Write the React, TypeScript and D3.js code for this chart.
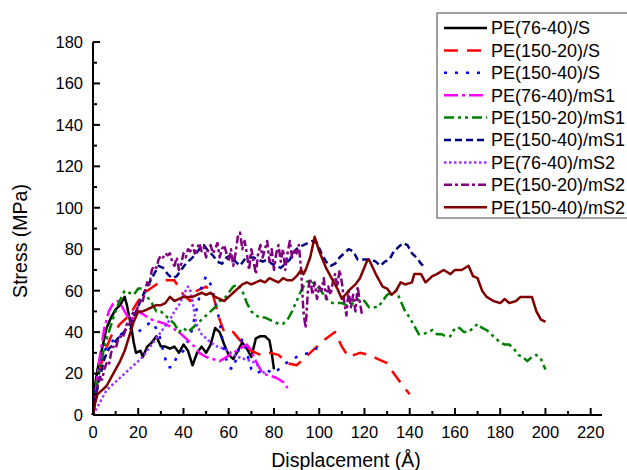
import React from "react";
import * as d3 from "d3";

type P = [number, number];

const seriesNames = [
  "PE(76-40)/S",
  "PE(150-20)/S",
  "PE(150-40)/S",
  "PE(76-40)/mS1",
  "PE(150-20)/mS1",
  "PE(150-40)/mS1",
  "PE(76-40)/mS2",
  "PE(150-20)/mS2",
  "PE(150-40)/mS2",
];

const xTicks = [0, 20, 40, 60, 80, 100, 120, 140, 160, 180, 200, 220];
const yTicks = [0, 20, 40, 60, 80, 100, 120, 140, 160, 180];

const pe7640S: P[] = [[0,0],[1,15],[2,22],[4,32],[6,42],[8,47],[10,51],[12,53],[14,57],[15,53],[17,42],[18,35],[19,30],[21,31],[22,28],[24,33],[26,35],[28,38],[30,33],[32,33],[34,32],[36,33],[38,30],[40,34],[42,31],[44,24],[46,30],[48,33],[50,30],[52,34],[54,42],[56,40],[58,34],[60,29],[62,27],[64,31],[66,35],[68,32],[70,28],[72,37],[74,38],[76,38],[78,36],[79,30],[80,22]];

const pe15020S: P[] = [[0,0],[2,18],[5,30],[8,38],[12,44],[16,48],[20,55],[24,60],[28,63],[32,65],[36,65],[40,58],[43,55],[46,60],[50,62],[53,58],[56,46],[58,40],[62,40],[65,36],[68,33],[70,31],[74,29],[78,30],[82,29],[86,25],[90,24],[94,28],[98,32],[102,36],[107,40],[110,33],[113,28],[118,30],[122,29],[126,27],[130,25],[133,20],[137,14],[140,10]];

const pe15040S: P[] = [[0,0],[1,12],[3,25],[5,31],[8,35],[11,38],[14,40],[17,42],[20,40],[23,43],[26,45],[29,40],[31,31],[33,23],[35,23],[37,28],[40,31],[43,38],[46,52],[48,62],[50,67],[52,63],[54,55],[56,45],[58,30],[60,23],[62,22],[64,30],[66,37],[68,30],[70,22],[72,20],[76,22],[80,20],[84,24],[88,27],[92,29],[96,30],[100,33]];

const pe7640mS1: P[] = [[0,0],[1,10],[3,28],[5,42],[7,50],[9,54],[11,55],[13,52],[15,48],[17,46],[20,50],[23,48],[26,46],[29,45],[32,44],[35,42],[38,40],[41,37],[44,34],[47,30],[50,28],[53,27],[56,26],[59,28],[62,30],[65,32],[68,34],[70,31],[72,26],[75,20],[78,19],[81,18],[84,16],[86,13]];

const pe15020mS1: P[] = [[0,0],[1,10],[3,22],[5,33],[7,40],[9,47],[11,53],[13,58],[14,60],[16,59],[18,58],[20,61],[22,61],[24,57],[26,54],[28,50],[30,50],[32,48],[34,46],[36,44],[38,40],[40,42],[42,40],[44,42],[46,44],[48,46],[50,48],[52,50],[54,52],[56,55],[58,56],[60,59],[62,62],[64,63],[66,60],[68,54],[70,50],[72,48],[74,47],[76,47],[78,46],[80,45],[82,44],[84,44],[86,46],[88,50],[90,55],[92,60],[94,64],[96,65],[98,63],[100,61],[102,58],[104,55],[106,54],[108,54],[110,54],[112,53],[114,53],[116,55],[118,56],[120,55],[122,52],[124,52],[126,52],[128,55],[130,58],[132,59],[134,60],[136,55],[138,50],[140,47],[142,43],[144,39],[146,39],[148,40],[150,41],[152,39],[154,39],[156,38],[158,38],[160,42],[162,42],[164,40],[166,40],[168,42],[170,44],[172,42],[174,41],[176,39],[178,37],[180,35],[182,34],[184,34],[186,32],[188,29],[190,28],[192,26],[194,28],[196,29],[198,27],[200,22]];

const pe15040mS1: P[] = [[0,0],[1,8],[3,18],[5,27],[7,32],[9,34],[11,37],[13,39],[15,42],[17,45],[19,50],[21,55],[23,60],[25,64],[27,68],[29,72],[31,71],[33,68],[35,66],[37,67],[39,70],[41,73],[43,75],[45,77],[47,80],[49,82],[51,79],[53,77],[55,74],[57,73],[59,76],[61,77],[63,74],[65,72],[67,75],[69,76],[71,76],[73,75],[75,74],[77,75],[79,73],[81,72],[83,71],[85,73],[87,75],[89,79],[91,81],[93,82],[95,83],[97,84],[99,83],[101,78],[103,74],[105,72],[107,73],[109,76],[111,78],[113,80],[115,79],[117,75],[119,75],[121,75],[123,75],[125,74],[127,72],[129,74],[131,75],[133,79],[135,81],[137,83],[139,82],[141,78],[143,76],[145,73],[147,71]];

const pe7640mS2: P[] = [[0,0],[2,4],[4,8],[6,12],[8,14],[10,16],[12,18],[14,20],[16,22],[18,24],[20,26],[22,28],[24,31],[26,34],[28,37],[30,40],[32,43],[34,46],[36,50],[38,53],[40,58],[42,62],[43,60],[44,55],[45,48],[46,43],[48,39],[50,37],[52,35],[55,33],[58,32],[61,30],[64,28],[67,27],[70,26],[72,25],[74,22],[76,20]];

const pe15020mS2: P[] = [[0,0],[1,8],[2,14],[3,18],[4,17],[5,22],[6,25],[7,24],[8,30],[9,33],[10,32],[11,36],[12,38],[13,37],[14,40],[15,44],[16,43],[17,48],[18,50],[19,49],[20,53],[21,56],[22,55],[23,60],[24,64],[25,63],[26,70],[27,72],[28,71],[29,75],[30,77],[31,76],[32,78],[33,77],[34,78],[35,74],[36,72],[37,76],[38,70],[39,73],[40,78],[41,76],[42,80],[43,79],[44,82],[45,78],[46,80],[47,83],[48,79],[49,81],[50,76],[51,80],[52,82],[53,78],[54,80],[55,83],[56,76],[57,80],[58,82],[59,78],[60,74],[61,80],[62,72],[63,78],[64,86],[65,88],[66,80],[67,84],[68,78],[69,70],[70,80],[71,74],[72,68],[73,78],[74,82],[75,76],[76,80],[77,84],[78,74],[79,80],[80,70],[81,78],[82,82],[83,74],[84,80],[85,70],[86,78],[87,84],[88,76],[89,80],[90,78],[91,82],[92,70],[93,50],[94,42],[95,60],[96,66],[97,58],[98,64],[99,56],[100,62],[101,60],[102,66],[103,56],[104,62],[105,58],[106,64],[107,68],[108,62],[109,70],[110,64],[111,55],[112,48],[113,60],[114,52],[115,58],[116,50],[117,62],[118,54],[119,48]];

const pe15040mS2: P[] = [[0,0],[1,6],[2,10],[4,12],[6,14],[8,18],[10,22],[12,26],[14,31],[16,38],[18,45],[20,50],[22,50],[24,51],[26,52],[28,53],[30,53],[32,54],[34,57],[36,55],[38,56],[40,57],[42,57],[44,57],[46,58],[48,59],[50,58],[52,59],[54,57],[56,56],[58,55],[60,57],[62,59],[64,61],[66,63],[68,64],[70,63],[72,64],[74,65],[76,64],[78,66],[80,65],[82,64],[84,66],[86,65],[88,65],[90,67],[92,70],[93,68],[94,70],[96,76],[98,86],[100,79],[103,71],[106,65],[108,61],[110,56],[113,60],[116,63],[118,66],[121,74],[122,75],[125,68],[128,62],[130,61],[132,58],[134,60],[136,64],[138,63],[141,64],[142,68],[145,68],[147,64],[148,65],[150,67],[152,68],[155,70],[158,68],[160,70],[163,70],[166,72],[168,67],[170,66],[172,60],[174,57],[177,55],[180,54],[182,56],[184,54],[187,55],[189,57],[193,57],[194,57],[196,50],[198,46],[200,45]];

const seriesData: P[][] = [pe7640S, pe15020S, pe15040S, pe7640mS1, pe15020mS1, pe15040mS1, pe7640mS2, pe15020mS2, pe15040mS2];

const colors = ["#000000", "#FF0000", "#0000FF", "#FF00FF", "#008000", "#000080", "#9933FF", "#800080", "#800000"];
const dashes = ["", "14 9", "3 8", "14 4 3 4", "10 4 3 4 3 4", "7 4", "2.5 2.5", "8 3 3 3", ""];

export default function App() {
  const W = 627, H = 470;
  const x = d3.scaleLinear().domain([0, 225]).range([93, 602]);
  const y = d3.scaleLinear().domain([0, 180]).range([415, 42]);
  const line = d3.line<P>().x(d => x(d[0])).y(d => y(d[1]));
  const font = "Arial, 'Liberation Sans', sans-serif";
  const xMinor = d3.range(10, 225, 20);
  const yMinor = d3.range(10, 180, 20);
  const legX = 437, legY = 13, rowH = 22.4;

  return (
    <svg width={W} height={H} style={{ position: "absolute", left: 0, top: 0, background: "#fff" }} fontFamily={font}>
      <rect x={0} y={0} width={W} height={H} fill="#fff" />
      {seriesData.map((s, i) => (
        <path key={i} d={line(s) || ""} fill="none" stroke={colors[i]} strokeWidth={2.5}
          strokeDasharray={dashes[i] || undefined} strokeLinejoin="round" />
      ))}
      <line x1={x(0)} x2={x(0)} y1={y(0)} y2={y(180)} stroke="#000" strokeWidth={2} />
      <line x1={x(0)} x2={x(225)} y1={y(0)} y2={y(0)} stroke="#000" strokeWidth={2} />
      {yTicks.map(t => (
        <g key={"y" + t}>
          <line x1={x(0)} x2={x(0) + 7} y1={y(t)} y2={y(t)} stroke="#000" strokeWidth={2} />
          <text x={83} y={y(t)} dy="0.36em" textAnchor="end" fontSize={16.5}>{t}</text>
        </g>
      ))}
      {yMinor.map(t => (
        <line key={"ym" + t} x1={x(0)} x2={x(0) + 4} y1={y(t)} y2={y(t)} stroke="#000" strokeWidth={2} />
      ))}
      {xTicks.map(t => (
        <g key={"x" + t}>
          <line x1={x(t)} x2={x(t)} y1={y(0)} y2={y(0) - 7} stroke="#000" strokeWidth={2} />
          <text x={x(t)} y={438} textAnchor="middle" fontSize={16.5}>{t}</text>
        </g>
      ))}
      {xMinor.map(t => (
        <line key={"xm" + t} x1={x(t)} x2={x(t)} y1={y(0)} y2={y(0) - 4} stroke="#000" strokeWidth={2} />
      ))}
      <text x={346} y={467} textAnchor="middle" fontSize={19.5}>Displacement (Å)</text>
      <text transform={`translate(27,241) rotate(-90)`} textAnchor="middle" fontSize={19.5}>Stress (MPa)</text>
      <rect x={legX} y={legY} width={200} height={205} fill="#fff" stroke="#444" strokeWidth={1} />
      {seriesNames.map((n, i) => {
        const ry = 28 + i * rowH;
        return (
          <g key={"l" + i}>
            <line x1={444} x2={487} y1={ry} y2={ry} stroke={colors[i]} strokeWidth={2.5}
              strokeDasharray={dashes[i] || undefined} />
            <text x={491} y={ry} dy="0.36em" fontSize={18}>{n}</text>
          </g>
        );
      })}
    </svg>
  );
}
